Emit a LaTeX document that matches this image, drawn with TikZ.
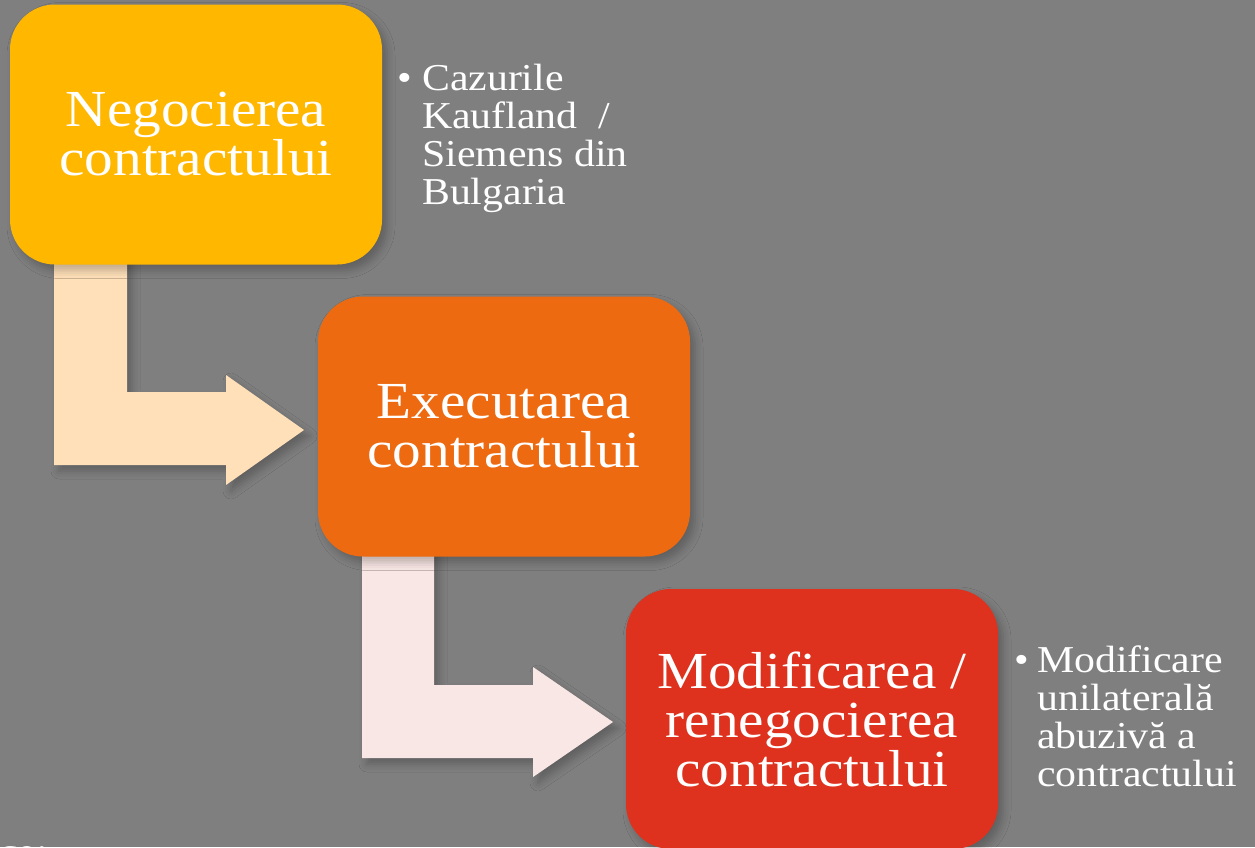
\documentclass[tikz,border=0pt]{standalone}
\usepackage{fontspec}
\setmainfont[FakeStretch=1.1]{Liberation Serif}
\usetikzlibrary{shadows.blur}
\definecolor{bg}{RGB}{127,127,127}
\definecolor{cyellow}{RGB}{255,183,0}
\definecolor{corange}{RGB}{238,106,17}
\definecolor{cred}{RGB}{222,50,30}
\definecolor{carrowa}{RGB}{255,224,185}
\definecolor{carrowb}{RGB}{249,231,229}
\begin{document}
\begin{tikzpicture}[x=1pt,y=-1pt,
  softshadow/.style={blur shadow={shadow xshift=5pt,shadow yshift=-6pt,shadow blur radius=8pt,shadow opacity=25}},
  stepbox/.style={rounded corners=45pt,minimum width=372pt,minimum height=260pt,
    text=white,align=center,inner sep=0pt,font=\fontsize{52}{49}\selectfont,softshadow},
  bentarrow/.style={softshadow},
  bullettext/.style={anchor=base west,inner sep=0pt,text=white,font=\fontsize{38}{38.3}\selectfont}]
\useasboundingbox[fill=bg] (0,0) rectangle (1255,847);
% bent arrows
\path[bentarrow,fill=carrowa] (54,250) -- (127,250) -- (127,392) -- (226,392) -- (226,375)
  -- (304,430) -- (226,485) -- (226,465) -- (54,465) -- cycle;
\path[bentarrow,fill=carrowb] (362,545) -- (434,545) -- (434,685) -- (533,685) -- (533,667)
  -- (613,722) -- (533,777) -- (533,758) -- (362,758) -- cycle;
% boxes
\node[stepbox,fill=cyellow] (b1) at (196,134.5) {Negocierea\\contractului};
\node[stepbox,fill=corange] (b2) at (504,426.5) {Executarea\\contractului};
\node[stepbox,fill=cred] (b3) at (812,719) {Modificarea /\\renegocierea\\contractului};
% bullet texts
\node[bullettext] (t1) at (397,90) {\makebox[25pt][l]{•}\parbox[t]{250pt}{Cazurile\\Kaufland\ \ /\\Siemens din\\Bulgaria}};
\node[bullettext] (t2) at (1014,672) {\makebox[23pt][l]{•}\parbox[t]{250pt}{Modificare\\unilaterală\\abuzivă a\\contractului}};
\node[bullettext] (t3) at (-1,864) {ce:};
\end{tikzpicture}
\end{document}
